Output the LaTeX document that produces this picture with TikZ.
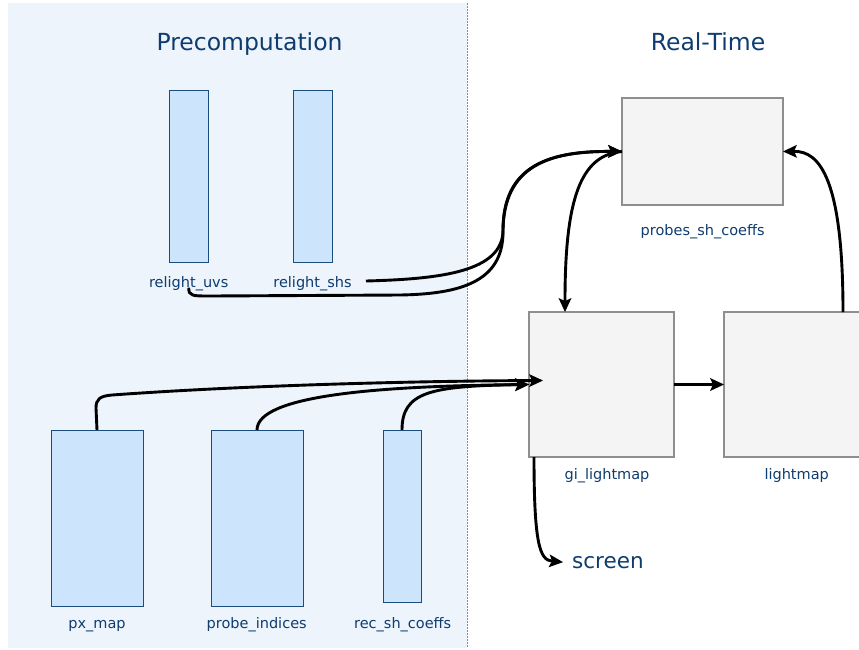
\documentclass[tikz,border=0pt]{standalone}
\usepackage{fontspec}
\setmainfont{DejaVu Sans}
\usetikzlibrary{arrows.meta}
\definecolor{txt}{HTML}{0E3C6F}
\definecolor{panel}{HTML}{EDF4FC}
\definecolor{bfill}{HTML}{CCE5FC}
\definecolor{bdraw}{HTML}{1A4C7C}
\definecolor{gfill}{HTML}{F4F4F4}
\definecolor{gdraw}{HTML}{8E8E8E}
\definecolor{dashc}{HTML}{8A8A8A}
\tikzset{
  bluebox/.style={draw=bdraw, fill=bfill, line width=1pt, inner sep=0pt, outer sep=0pt},
  graybox/.style={draw=gdraw, fill=gfill, line width=1.2pt, inner sep=0pt, outer sep=0pt},
  lbl/.style={text=txt, font=\fontsize{14.5}{17}\selectfont, anchor=base, inner sep=0pt},
  ttl/.style={text=txt, font=\fontsize{23.5}{28}\selectfont, anchor=base, inner sep=0pt},
  conn/.style={line width=2.9pt, arrows={-Stealth[length=14pt,width=13pt,inset=3pt,line width=0pt]}},
}
\begin{document}
\begin{tikzpicture}[x=1pt,y=1pt]
\useasboundingbox (0,0) rectangle (859,-649);
% panel
\fill[panel] (8,-3) rectangle (467,-648);
\draw[dashc, line width=0.9pt, dash pattern=on 1.5pt off 1.5pt] (467,-3) -- (467,-648);
% titles
\node[ttl] (t1) at (249.5,-50) {Precomputation};
\node[ttl] (t2) at (708,-50) {Real-Time};
% blue boxes
\node[bluebox, minimum width=39pt, minimum height=172pt] (uvs) at (188.5,-176) {};
\node[bluebox, minimum width=39pt, minimum height=172pt] (shs) at (312.5,-176) {};
\node[bluebox, minimum width=92pt, minimum height=176pt] (px) at (97,-518) {};
\node[bluebox, minimum width=92pt, minimum height=176pt] (pi) at (257,-518) {};
\node[bluebox, minimum width=38pt, minimum height=172pt] (rec) at (402,-516) {};
% gray boxes
\node[graybox, minimum width=161pt, minimum height=107pt] (probes) at (702.5,-151.5) {};
\node[graybox, minimum width=145pt, minimum height=145pt] (gi) at (601.5,-384.5) {};
\node[graybox, minimum width=145pt, minimum height=145pt] (lm) at (796.5,-384.5) {};
% labels
\node[lbl] (uvsl) at (188.7,-287.7) {relight\_uvs};
\node[lbl] (shsl) at (312.5,-287.7) {relight\_shs};
\node[lbl] (pxl) at (97,-628) {px\_map};
\node[lbl] (pil) at (256.7,-628) {probe\_indices};
\node[lbl] (recl) at (402.7,-628) {rec\_sh\_coeffs};
\node[lbl] (probesl) at (702.7,-235.7) {probes\_sh\_coeffs};
\node[lbl] (gil) at (607,-479) {gi\_lightmap};
\node[lbl] (lml) at (796.7,-479) {lightmap};
\node[text=txt, font=\fontsize{21.5}{26}\selectfont, inner xsep=9pt, inner ysep=0pt, anchor=base west] (scr) at (563,-568) {screen};
\coordinate (shsout) at (366,-281);
% connectors
\draw[conn] (px.north) -- (96,-408) .. controls (96,-399) and (100,-396) .. (112,-395) .. controls (250,-385) and (420,-381) .. ([xshift=14pt,yshift=4pt]gi.west);
\draw[conn] (pi.north) .. controls (257,-395) and (380,-386) .. (gi.west);
\draw[conn] (rec.north) .. controls (402,-392) and (430,-386) .. (gi.west);
\draw[conn] (shsout) .. controls (440,-279) and (503,-272) .. (503,-230) .. controls (503,-165) and (550,-151) .. (probes.west);
\draw[conn] (uvsl.base) .. controls (188.7,-296) and (192,-296) .. (210,-296) -- (400,-295) .. controls (460,-294) and (503,-282) .. (503,-232) .. controls (503,-165) and (550,-151) .. (probes.west);
\draw[conn] (probes.west) .. controls (580,-155) and (565,-200) .. ([xshift=36pt]gi.north west);
\draw[conn] ([xshift=119pt]lm.north west) .. controls (843,-180) and (820,-151) .. (probes.east);
\draw[conn] (gi.east) -- (lm.west);
\draw[conn] ([xshift=5pt]gi.south west) .. controls (534,-545) and (540,-560) .. (scr.west);
\end{tikzpicture}
\end{document}
